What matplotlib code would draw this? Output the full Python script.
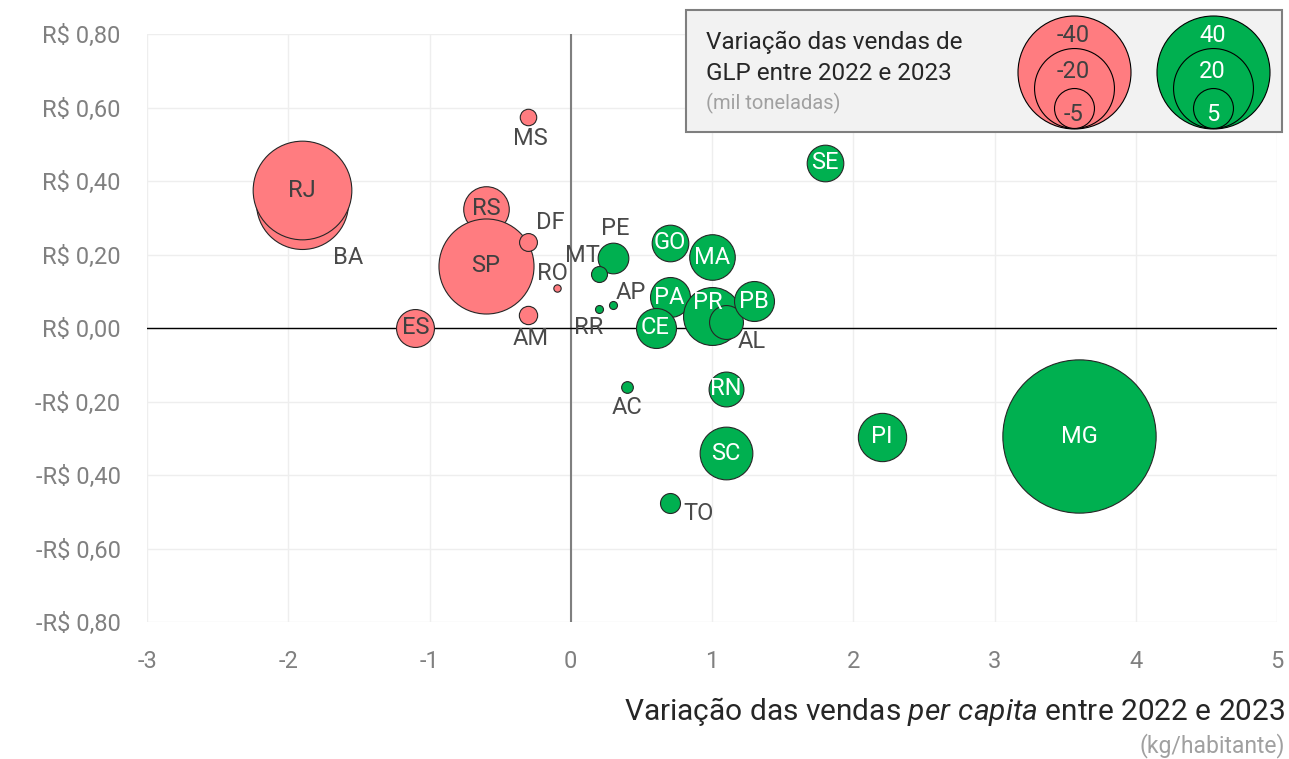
import matplotlib
matplotlib.use('Agg')
import matplotlib.pyplot as plt
from matplotlib.patches import Rectangle
import numpy as np

# ---------------- data ----------------
states = ['BA', 'RJ', 'RS', 'SP', 'DF', 'MS', 'RO', 'AM', 'ES', 'PE', 'MT', 'RR', 'AP',
          'MA', 'GO', 'PA', 'CE', 'PR', 'AL', 'PB', 'SE', 'RN', 'AC', 'SC', 'PI', 'MG', 'TO']
per_capita = [-1.9, -1.9, -0.6, -0.6, -0.3, -0.3, -0.1, -0.3, -1.1, 0.3, 0.2, 0.2, 0.3,
              1.0, 0.7, 0.7, 0.6, 1.0, 1.1, 1.3, 1.8, 1.1, 0.4, 1.1, 2.2, 3.6, 0.7]
price_var = [0.34, 0.375, 0.325, 0.17, 0.235, 0.575, 0.108, 0.035, 0.0, 0.19, 0.148, 0.052, 0.063,
             0.192, 0.232, 0.084, 0.0, 0.032, 0.017, 0.073, 0.45, -0.165, -0.16, -0.341, -0.296, -0.295, -0.475]
volume_var = [-26.5, -30.5, -6.5, -28.3, -1.0, -0.85, -0.17, -1.05, -4.5, 2.95, 0.8, 0.2, 0.2,
              6.5, 4.2, 5.0, 5.0, 10.5, 3.6, 5.0, 4.2, 3.8, 0.43, 8.7, 7.3, 73.6, 1.25]
legend_neg = [-40, -20, -5]
legend_pos = [40, 20, 5]
xticks = [-3, -2, -1, 0, 1, 2, 3, 4, 5]
yticks = [-0.8, -0.6, -0.4, -0.2, 0.0, 0.2, 0.4, 0.6, 0.8]
ytick_labels = ['-R$ 0,80', '-R$ 0,60', '-R$ 0,40', '-R$ 0,20', 'R$ 0,00',
                'R$ 0,20', 'R$ 0,40', 'R$ 0,60', 'R$ 0,80']

# ---------------- style ----------------
FONT = 'Roboto'
plt.rcParams['font.family'] = [FONT, 'DejaVu Sans']
plt.rcParams['mathtext.fontset'] = 'custom'
plt.rcParams['mathtext.rm'] = FONT
plt.rcParams['mathtext.it'] = FONT + ':italic'

RED = '#FF7C80'
GREEN = '#00B050'
DARK = '#404040'
OUT = '#4a4a4a'
GRAY = '#808080'
FS = 17

DPI = 100
W, H = 1289, 759
PX2PT = 72 / DPI
K = (113 * PX2PT) ** 2 / 40  # marker area (pt^2) per thousand tonnes

# label placement (offsets in px, dy positive downward); others centered inside
outside_offsets = {
    'MS': (2, 22), 'DF': (22, -19), 'RO': (-4, -15), 'AM': (2, 23), 'MT': (-17, -18),
    'PE': (2, -30), 'RR': (-10, 19), 'AP': (18, -12), 'AC': (0, 21), 'TO': (29, 11),
    'AL': (26, 20), 'BA': (46, 54),
}
inside_offsets = {'PR': (-4, -14)}

fig = plt.figure(figsize=(W / DPI, H / DPI), dpi=DPI)
ax = fig.add_axes([147 / W, 1 - 622 / H, (1277 - 147) / W, (622 - 34) / H])

ax.set_xlim(-3, 5)
ax.set_ylim(-0.8, 0.8)
for s in ax.spines.values():
    s.set_visible(False)
ax.set_xticks(xticks, [str(t) for t in xticks])
ax.set_yticks(yticks, ytick_labels)
ax.tick_params(length=0, labelsize=FS, labelcolor=GRAY)
ax.tick_params(axis='y', pad=19)
ax.tick_params(axis='x', pad=20)
ax.grid(True, color='#eeeeee', lw=1, zorder=0)
ax.set_axisbelow(True)
ax.axvline(0, color='#7f7f7f', lw=1.5, zorder=1)
ax.axhline(0, color='black', lw=1, zorder=1)

for i, (st, xv, yv, vv) in enumerate(zip(states, per_capita, price_var, volume_var)):
    col = RED if vv < 0 else GREEN
    ax.scatter([xv], [yv], s=K * abs(vv), color=col, edgecolor='#262626', linewidth=0.8,
               zorder=2 + i * 0.01)
    if st in outside_offsets:
        dx, dy = outside_offsets[st]
        tc = OUT
    else:
        dx, dy = inside_offsets.get(st, (0, 0))
        tc = DARK if vv < 0 else 'white'
    ax.annotate(st, (xv, yv), xytext=(dx * PX2PT, -dy * PX2PT), textcoords='offset points',
                ha='center', va='center', fontsize=FS, color=tc, zorder=3)

# ---------------- overlay (legend + axis title) ----------------
lax = fig.add_axes([0, 0, 1, 1])
lax.set_xlim(0, W)
lax.set_ylim(H, 0)
lax.axis('off')
lax.set_zorder(5)

lax.add_patch(Rectangle((686, 10), 596, 122, facecolor='#f2f2f2', edgecolor='#7f7f7f', lw=1.5))
lax.text(706, 42, 'Variação das vendas de', fontsize=17.5, color='#262626', va='center')
lax.text(706, 73, 'GLP entre 2022 e 2023', fontsize=17.5, color='#262626', va='center')
lax.text(706, 103, '(mil toneladas)', fontsize=14.5, color='#a0a0a0', va='center')

bottom = 128.3
label_gap = [20, 23, 26]
for cx, vals, col, tc in [(1073.5, legend_neg, RED, DARK), (1212.5, legend_pos, GREEN, 'white')]:
    for j, v in enumerate(vals):
        d = 113 * np.sqrt(abs(v) / 40)
        lax.scatter([cx], [bottom - d / 2], s=K * abs(v), color=col, edgecolor='black',
                    linewidth=0.8, zorder=2 + j)
        lax.text(cx, bottom - d + label_gap[j], str(v), ha='center', va='center',
                 fontsize=FS, color=tc, zorder=6)

lax.text(1285, 711, r'Variação das vendas $\mathit{per\ capita}$ entre 2022 e 2023',
         ha='right', va='center', fontsize=21.5, color='#262626')
lax.text(1285, 746, '(kg/habitante)', ha='right', va='center', fontsize=16.5, color='#a0a0a0')

fig.savefig('out.png', dpi=DPI)
